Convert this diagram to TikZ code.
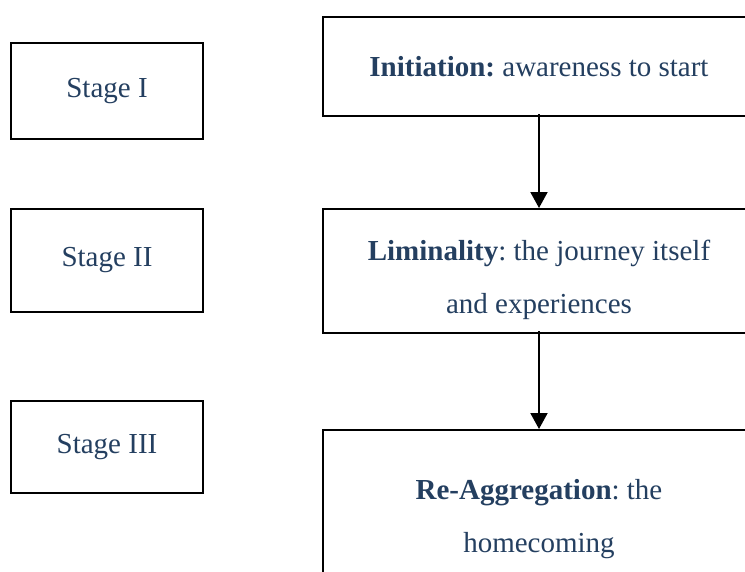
\documentclass[tikz,border=0pt]{standalone}
\usepackage{fontspec}
\setmainfont{Liberation Serif}
\usetikzlibrary{arrows.meta}
\definecolor{txtblue}{RGB}{36,63,96}
\tikzset{
  box/.style={draw=black, line width=2pt, fill=white, inner sep=0pt, text=txtblue,
    align=center, font=\fontsize{29}{53}\selectfont},
  flow/.style={draw=black, line width=2pt, -{Triangle[width=17pt,length=16pt]}, shorten <=-3pt}
}
\begin{document}
\frenchspacing
\begin{tikzpicture}[x=1pt,y=-1pt]
\useasboundingbox (0,0) rectangle (745,571);
\clip (0,0) rectangle (745,571);
\fill[white] (0,0) rectangle (745,571);
% stage boxes
\node[box, minimum width=192pt, minimum height=96pt] (s1) at (107,91) {Stage I};
\node[box, minimum width=192pt, minimum height=103pt] (s2) at (107,260.5) {Stage II};
\node[box, minimum width=192pt, minimum height=92pt] (s3) at (107,447) {Stage III};
% process boxes
\node[box, minimum width=432pt, minimum height=99pt] (b1) at (539,66.5) {\textbf{Initiation:} awareness to start};
\node[box, minimum width=432pt, minimum height=124pt] (b2) at (539,271) {};
\node[text=txtblue, align=center, font=\fontsize{29}{53}\selectfont] (t2) at (539,280) {\textbf{Liminality}: the journey itself\\and experiences};
\node[box, minimum width=432pt, minimum height=178pt] (b3) at (539,519) {\textbf{Re-Aggregation}: the\\homecoming};
% arrows
\draw[flow] (b1.south) -- (b2.north);
\draw[flow] (b2.south) -- (b3.north);
\end{tikzpicture}
\end{document}
